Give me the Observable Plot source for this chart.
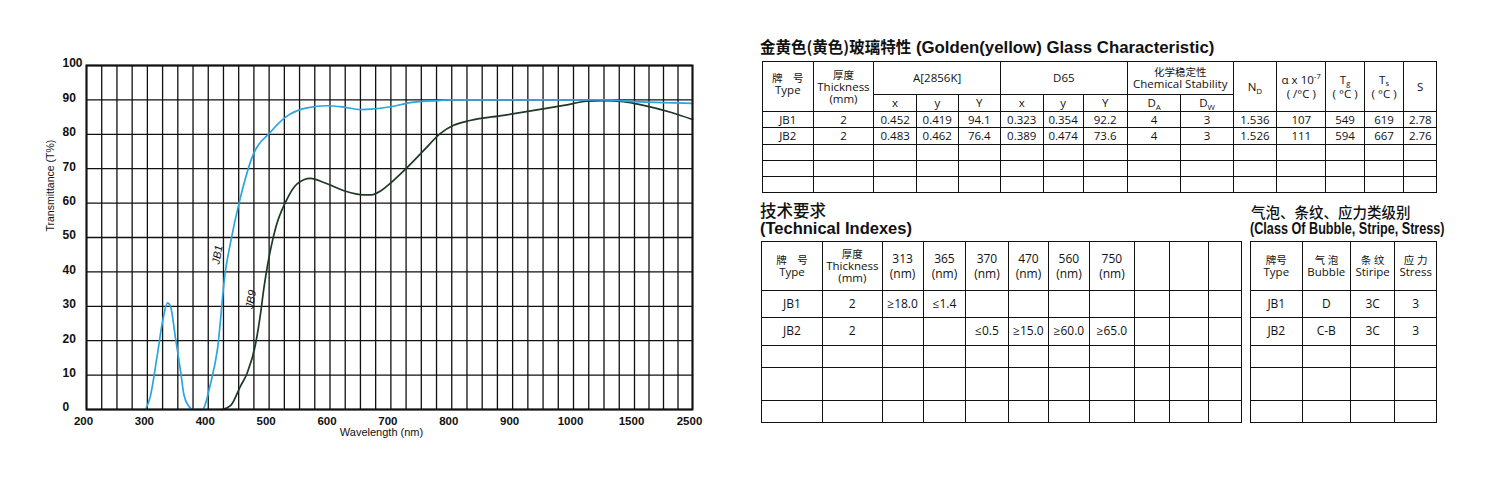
<!DOCTYPE html>
<html>
<head>
<meta charset="utf-8">
<script src="https://cdn.jsdelivr.net/npm/d3@7"></script>
<script src="https://cdn.jsdelivr.net/npm/@observablehq/plot@0.6"></script>
<style>
  html, body { margin: 0; padding: 0; background: #fff; }
  #page { position: relative; width: 1500px; height: 480px; background: #fff; overflow: hidden; }
  #chart { position: absolute; left: 0; top: 0; }
  .ttl { position: absolute; white-space: nowrap; color: #111; font-family: 'Liberation Sans', Arial, 'Noto Sans CJK SC', sans-serif; font-weight: bold; }
  .cjk { font-family: 'Noto Sans CJK SC', sans-serif; }
  table.t { position: absolute; border-collapse: collapse; table-layout: fixed; font-family: 'Open Sans', 'Noto Sans CJK SC', sans-serif; font-size: 11.5px; color: #111; }
  table.t td, table.t th { border: 1.2px solid #111; padding: 0; text-align: center; vertical-align: middle; font-weight: normal; line-height: 12px; overflow: hidden; white-space: nowrap; }
  table.t sub, table.t sup { font-size: 8px; line-height: 0; }
  table.t th.tt { line-height: 14px; }
  table.t th.tt sub { font-size: 7.5px; vertical-align: -2px; }
  .zh { font-size: 10.5px; }
</style>
</head>
<body>
<div id="page">
  <div id="chart"></div>
  <div class="ttl" style="left:760px; top:37px; font-size:16.8px; line-height:19px;"><span class="cjk" style="font-size:15.5px">金黄色(黄色)玻璃特性</span> (Golden(yellow) Glass Characteristic)</div>
  <div class="ttl cjk" style="left:760px; top:202px; font-size:16.5px; line-height:16px; font-weight:500;">技术要求</div>
  <div class="ttl" style="left:760px; top:219px; font-size:16.5px; line-height:18px;">(Technical Indexes)</div>
  <div class="ttl cjk" style="left:1251px; top:204px; font-size:14.5px; line-height:15px; font-weight:500;">气泡、条纹、应力类级别</div>
  <div class="ttl" style="left:1250px; top:220px; font-size:16px; line-height:17px; transform: scaleX(0.79); transform-origin: left top;">(Class Of Bubble, Stripe, Stress)</div>
  <table class="t" id="t1" style="left:762px; top:61px; width:675px;"></table>
  <table class="t" id="t2" style="left:761px; top:241px; width:481px;"></table>
  <table class="t" id="t3" style="left:1250px; top:241px; width:187px;"></table>
</div>
<script>
// ---------- chart data ----------
const wavelengthTicks = [200, 300, 400, 500, 600, 700, 800, 900, 1000, 1500, 2500];
const transmittanceTicks = [0, 10, 20, 30, 40, 50, 60, 70, 80, 90, 100];
const gridWavelengths = d3.range(200, 1000, 25).concat([1000, 1125, 1250, 1375, 1500, 1750, 2000, 2250, 2500]);

const jb1Wavelength    = [297, 305, 316, 325, 333, 338, 346, 355, 360, 368, 374, 390, 404, 415, 428, 436, 452, 472, 502, 527, 562, 595, 623, 650, 668, 700, 732, 776, 800, 900, 1000, 1250, 1500, 2000, 2500];
const jb1Transmittance = [0, 3.9, 15.5, 25.6, 31, 30, 21, 10.6, 4.3, 1, 0, 0, 7.7, 17.4, 40, 48, 61, 73.3, 80.6, 85, 87.7, 88.3, 87.9, 87.2, 87.3, 88, 89.2, 89.8, 90, 90, 90, 90, 89.5, 89.2, 89];

const jb9Wavelength    = [423, 437, 453, 464, 478, 486, 491, 497, 502, 511, 527, 546, 568, 590, 623, 655, 668, 683, 694, 727, 754, 781, 803, 830, 885, 940, 984, 1110, 1246, 1410, 1657, 2122, 2500];
const jb9Transmittance = [0, 1.2, 6.8, 10.6, 19.3, 28, 34.8, 41.5, 46.2, 53, 60.3, 65.6, 67.2, 66, 63.6, 62.4, 62.4, 63.5, 65, 70.4, 75.3, 80.2, 82.6, 84, 85.5, 87.1, 88.4, 89.6, 89.8, 89.5, 88.4, 86.4, 84.3];

const curveNames = ["JB1", "JB9"];
const curveLabelWavelength = [415, 470];
const curveLabelTransmittance = [45, 32];

const blue = "#2aa5df";
const green = "#1c3a25";

const jb1 = jb1Wavelength.map((w, i) => ({wl: w, t: jb1Transmittance[i]}));
const jb9 = jb9Wavelength.map((w, i) => ({wl: w, t: jb9Transmittance[i]}));
const curveLabels = curveNames.map((n, i) => ({name: n, wl: curveLabelWavelength[i], t: curveLabelTransmittance[i]}));

const chart = Plot.plot({
  width: 720,
  height: 480,
  marginLeft: 86,
  marginRight: 28,
  marginTop: 65,
  marginBottom: 71,
  style: {fontFamily: "'Liberation Sans', Arial, sans-serif", fontSize: "11.5px", color: "#111", background: "transparent"},
  x: {type: "linear", domain: [200, 1000, 1500, 2500], range: [86, 573, 634, 692]},
  y: {domain: [0, 100]},
  marks: [
    Plot.ruleX(gridWavelengths, {stroke: "#111", strokeWidth: 1.3}),
    Plot.ruleY(transmittanceTicks, {stroke: "#111", strokeWidth: 1.3}),
    Plot.line(jb9, {x: "wl", y: "t", stroke: green, strokeWidth: 1.7, curve: "monotone-x"}),
    Plot.line(jb1, {x: "wl", y: "t", stroke: blue, strokeWidth: 1.7, curve: "monotone-x"}),
    Plot.frame({stroke: "#111", strokeWidth: 2}),
    Plot.axisX({ticks: wavelengthTicks, tickFormat: d => String(d), tickSize: 0, tickPadding: 7, dx: -3, fontWeight: "bold", label: null}),
    Plot.axisY({ticks: transmittanceTicks, tickFormat: d => String(d), tickSize: 0, tickPadding: 0, textAnchor: "start", dx: -24, dy: -2, fontWeight: "bold", fontSize: 12, label: null}),
    Plot.text(curveLabels, {x: "wl", y: "t", text: "name", rotate: -80, fontSize: 11, fontStyle: "italic", fill: "#111"}),
    Plot.text(["Transmittance (T%)"], {frameAnchor: "left", rotate: -90, dx: -36, dy: -6, fontSize: 10.5}),
    Plot.text(["Wavelength (nm)"], {frameAnchor: "bottom", dx: -8, dy: 26, fontSize: 11})
  ]
});
document.getElementById("chart").appendChild(chart);

// ---------- table data ----------
const glassTypes = ["JB1", "JB2"];
const thicknessMm = [2, 2];
const aX = ["0.452", "0.483"];
const aY = ["0.419", "0.462"];
const aBigY = ["94.1", "76.4"];
const d65X = ["0.323", "0.389"];
const d65Y = ["0.354", "0.474"];
const d65BigY = ["92.2", "73.6"];
const stabilityDA = [4, 4];
const stabilityDW = [3, 3];
const refractiveND = ["1.536", "1.526"];
const expansionAlpha = [107, 111];
const tempTg = [549, 594];
const tempTs = [619, 667];
const densityS = ["2.78", "2.76"];

const indexWavelengths = ["313", "365", "370", "470", "560", "750"];
const indexJB1 = ["≥18.0", "≤1.4", "", "", "", ""];
const indexJB2 = ["", "", "≤0.5", "≥15.0", "≥60.0", "≥65.0"];
const indexRows = [indexJB1, indexJB2];

const bubbleClass = ["D", "C-B"];
const stripeClass = ["3C", "3C"];
const stressClass = [3, 3];

// ---------- table 1 ----------
const t1Widths = [50.6, 60.7, 42.7, 41.6, 42.4, 42.6, 40, 44.2, 53.7, 52.3, 43.4, 49.3, 38.3, 39.7, 32.7];
let h1 = "<colgroup>" + t1Widths.map(w => `<col style="width:${w}px">`).join("") + "</colgroup>";
h1 += `<tr style="height:33px">
  <th rowspan="2" style="vertical-align:top;padding-top:10px"><span class="zh">牌　号</span><br>Type</th>
  <th rowspan="2"><span class="zh">厚度</span><br>Thickness<br>(mm)</th>
  <th colspan="3">A[2856K]</th>
  <th colspan="3">D65</th>
  <th colspan="2"><span class="zh">化学稳定性</span><br>Chemical Stability</th>
  <th rowspan="2">N<sub>D</sub></th>
  <th rowspan="2" class="tt">α x 10<sup>-7</sup><br>( /°C )</th>
  <th rowspan="2" class="tt">T<sub>g</sub><br>( °C )</th>
  <th rowspan="2" class="tt">T<sub>s</sub><br>( °C )</th>
  <th rowspan="2">S</th></tr>`;
h1 += `<tr style="height:17px"><th>x</th><th>y</th><th>Y</th><th>x</th><th>y</th><th>Y</th><th>D<sub>A</sub></th><th>D<sub>W</sub></th></tr>`;
glassTypes.forEach((g, i) => {
  const cells = [g, thicknessMm[i], aX[i], aY[i], aBigY[i], d65X[i], d65Y[i], d65BigY[i], stabilityDA[i], stabilityDW[i], refractiveND[i], expansionAlpha[i], tempTg[i], tempTs[i], densityS[i]];
  h1 += `<tr style="height:16.3px">` + cells.map(c => `<td>${c}</td>`).join("") + "</tr>";
});
for (let r = 0; r < 3; r++) h1 += `<tr style="height:16px">` + t1Widths.map(() => "<td></td>").join("") + "</tr>";
document.getElementById("t1").innerHTML = h1;

// ---------- table 2 ----------
const t2Widths = [61, 59.6, 41, 42.7, 42.3, 40.7, 40.3, 45.7, 35, 38.3, 33.4];
const rowHeights = [27.3, 27.4, 22.6, 32.4, 22.6];
let h2 = "<colgroup>" + t2Widths.map(w => `<col style="width:${w}px">`).join("") + "</colgroup>";
h2 += `<tr style="height:49px"><th><span class="zh">牌　号</span><br>Type</th><th><span class="zh">厚度</span><br>Thickness<br>(mm)</th>` +
  indexWavelengths.map(w => `<th style="font-size:12px;line-height:15px">${w}<br>(nm)</th>`).join("") + "<th></th><th></th><th></th></tr>";
glassTypes.forEach((g, i) => {
  const cells = [g, thicknessMm[i], ...indexRows[i], "", "", ""];
  h2 += `<tr style="height:${rowHeights[i]}px">` + cells.map(c => `<td style="font-size:12px">${c}</td>`).join("") + "</tr>";
});
for (let r = 2; r < 5; r++) h2 += `<tr style="height:${rowHeights[r]}px">` + t2Widths.map(() => "<td></td>").join("") + "</tr>";
document.getElementById("t2").innerHTML = h2;

// ---------- table 3 ----------
const t3Widths = [51.6, 48.4, 44.3, 41.7];
let h3 = "<colgroup>" + t3Widths.map(w => `<col style="width:${w}px">`).join("") + "</colgroup>";
h3 += `<tr style="height:49px"><th><span class="zh">牌号</span><br>Type</th><th><span class="zh">气 泡</span><br>Bubble</th><th><span class="zh">条 纹</span><br>Stiripe</th><th><span class="zh">应 力</span><br>Stress</th></tr>`;
glassTypes.forEach((g, i) => {
  const cells = [g, bubbleClass[i], stripeClass[i], stressClass[i]];
  h3 += `<tr style="height:${rowHeights[i]}px">` + cells.map(c => `<td style="font-size:12px">${c}</td>`).join("") + "</tr>";
});
for (let r = 2; r < 5; r++) h3 += `<tr style="height:${rowHeights[r]}px">` + t3Widths.map(() => "<td></td>").join("") + "</tr>";
document.getElementById("t3").innerHTML = h3;
</script>
</body>
</html>
